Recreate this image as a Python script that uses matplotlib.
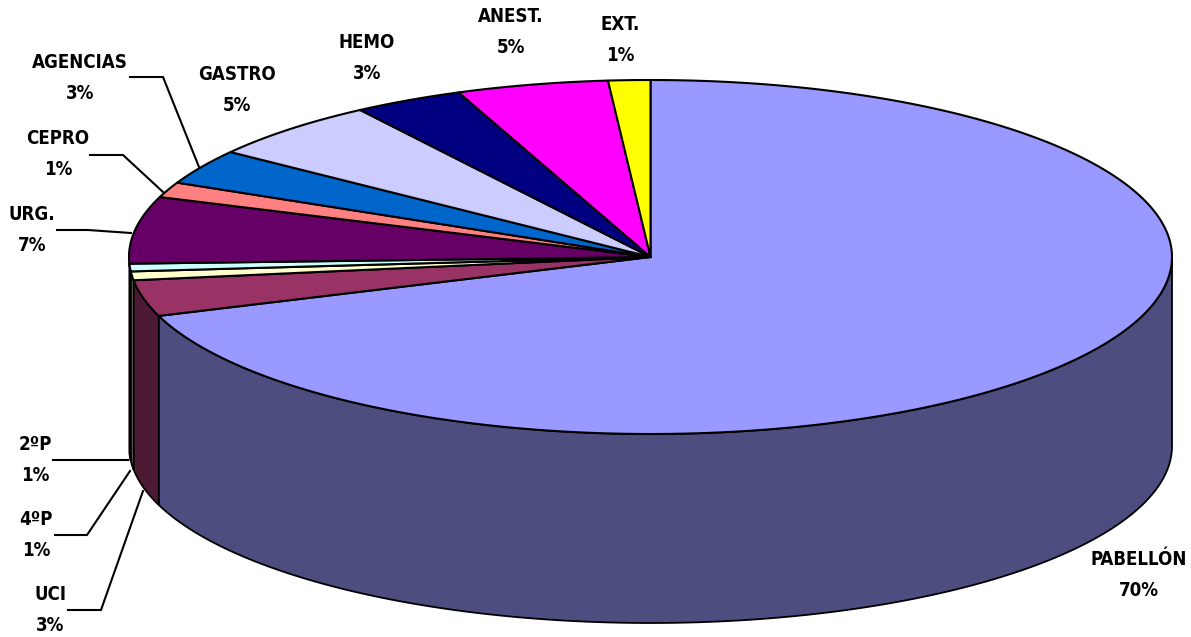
import numpy as np
import matplotlib
matplotlib.use("Agg")
import matplotlib.pyplot as plt
from matplotlib.patches import Polygon

# clockwise from 12 o'clock, shares as drawn in the picture
names = ["PABELLÓN", "UCI", "4ºP", "2ºP", "URG.", "CEPRO", "AGENCIAS", "GASTRO", "HEMO", "ANEST.", "EXT."]
shares = [69.6, 3.3, 0.8, 0.7, 6.1, 1.4, 3.2, 5.5, 3.4, 4.7, 1.3]
labels = ["70%", "3%", "1%", "1%", "7%", "1%", "3%", "5%", "3%", "5%", "1%"]

colors = ["#9999FF", "#993366", "#FFFFCC", "#CCFFFF", "#660066", "#FF8080",
          "#0066CC", "#CCCCFF", "#000080", "#FF00FF", "#FFFF00"]
sides = ["#4D4D80", "#4D1A33", "#808066", "#668080"]

# pie geometry, in picture pixels
cx, cy = 650.5, 257
rx, ry = 521.5, 177
depth = 189

label_xy = [(1139, 575), (50, 610), (36, 535), (35, 460), (32, 230), (58, 154),
            (80, 78), (237, 90), (367, 58), (511, 32), (620, 40)]
leaders = {
    "UCI": [(68, 610), (101, 610), (143, 491)],
    "4ºP": [(55, 535), (87, 535), (130, 471)],
    "2ºP": [(53, 460), (128, 460)],
    "URG.": [(57, 230), (88, 230), (131, 233)],
    "CEPRO": [(90, 155), (123, 155), (163, 192)],
    "AGENCIAS": [(130, 77), (163, 77), (199, 167)],
}


def rim(a0, a1, dy=0):
    t = np.radians(np.linspace(a0, a1, 200))
    return np.column_stack([cx + rx * np.sin(t), cy - ry * np.cos(t) + dy])


fig = plt.figure(figsize=(11.91, 6.37), dpi=100)
ax = fig.add_axes([0, 0, 1, 1])
ax.set_xlim(0, 1191)
ax.set_ylim(637, 0)
ax.axis("off")

edges = np.concatenate([[0], np.cumsum(shares)]) * 360 / sum(shares)

# side walls, only the front half of the disc shows
for i, side in enumerate(sides):
    a0, a1 = max(edges[i], 90), min(edges[i + 1], 270)
    if a0 >= a1:
        continue
    wall = np.vstack([rim(a0, a1), rim(a0, a1, depth)[::-1]])
    ax.add_patch(Polygon(wall, closed=True, fc=side, ec="black", lw=1.3, joinstyle="round"))

# top face
for i, c in enumerate(colors):
    top = np.vstack([[cx, cy], rim(edges[i], edges[i + 1])])
    ax.add_patch(Polygon(top, closed=True, fc=c, ec="black", lw=1.5, joinstyle="round"))

for name, pts in leaders.items():
    xs, ys = zip(*pts)
    ax.plot(xs, ys, color="black", lw=1.5, solid_joinstyle="miter")

for name, pct, (x, y) in zip(names, labels, label_xy):
    ax.text(x, y, name + "\n" + pct, ha="center", va="center", multialignment="center",
            family="DejaVu Sans", stretch="condensed", weight="bold",
            fontsize=13.4, linespacing=1.8, color="black")

fig.savefig("out.png", dpi=100, facecolor="white")
